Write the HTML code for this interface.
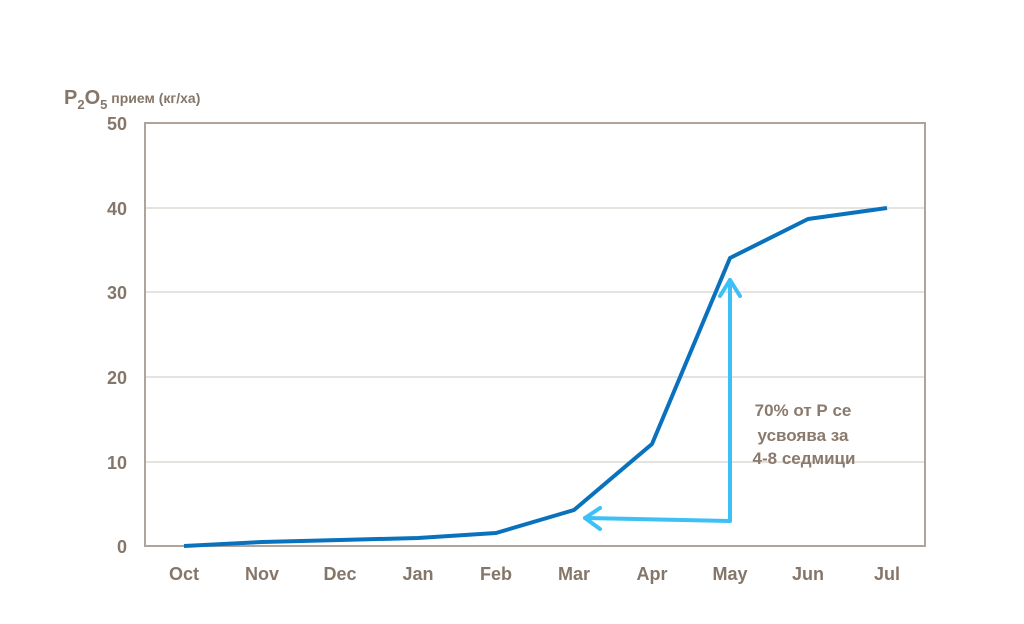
<!DOCTYPE html>
<html><head><meta charset="utf-8"><style>body{margin:0;background:#fff}</style></head><body>
<svg width="1024" height="619" viewBox="0 0 1024 619" xmlns="http://www.w3.org/2000/svg" font-family="Liberation Sans, DejaVu Sans, sans-serif">
<g stroke="#d8d0ca" stroke-width="1.2">
<line x1="145" y1="208" x2="925" y2="208"/><line x1="145" y1="292" x2="925" y2="292"/>
<line x1="145" y1="377" x2="925" y2="377"/><line x1="145" y1="462" x2="925" y2="462"/>
</g>
<rect x="145" y="123" width="780" height="423" fill="none" stroke="#b0a49a" stroke-width="2"/>
<g fill="#85766a" font-weight="bold" font-size="18" text-anchor="end">
<text x="127" y="130">50</text><text x="127" y="215">40</text><text x="127" y="299">30</text>
<text x="127" y="384">20</text><text x="127" y="469">10</text><text x="127" y="553">0</text>
</g>
<g fill="#85766a" font-weight="bold" font-size="18" text-anchor="middle">
<text x="184" y="580">Oct</text><text x="262" y="580">Nov</text><text x="340" y="580">Dec</text>
<text x="418" y="580">Jan</text><text x="496" y="580">Feb</text><text x="574" y="580">Mar</text>
<text x="652" y="580">Apr</text><text x="730" y="580">May</text><text x="808" y="580">Jun</text>
<text x="887" y="580">Jul</text>
</g>
<text x="64" y="104" fill="#85766a" font-weight="bold" font-size="20">P<tspan font-size="13" dy="5">2</tspan><tspan dy="-5">O</tspan><tspan font-size="13" dy="5">5</tspan><tspan font-size="14" dy="-6"> прием (кг/ха)</tspan></text>
<polyline points="184,546 262,542 340,540 418,538 496,533 574,510 652,444 730,258 808,219 887,208" fill="none" stroke="#0a72bd" stroke-width="4" stroke-linejoin="round"/>
<g fill="none" stroke="#3cc0f5" stroke-width="4" stroke-linecap="round" stroke-linejoin="round">
<polyline points="730,280 730,521 585,518"/>
<polyline points="600,508 585,518 600,529"/>
<polyline points="720,296 730,280 740,296"/>
</g>
<g fill="#8a7a6d" font-weight="bold" font-size="17" text-anchor="middle">
<text x="803" y="416">70%  от Р се</text><text x="803" y="441">усвоява за</text><text x="804" y="464">4-8 седмици</text>
</g>
</svg>
</body></html>
